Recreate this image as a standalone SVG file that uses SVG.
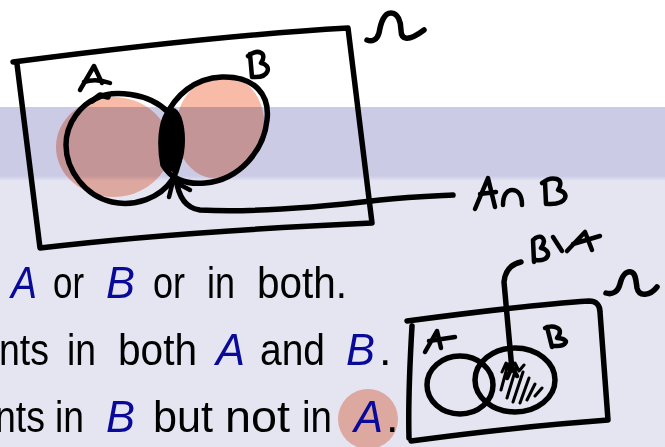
<svg xmlns="http://www.w3.org/2000/svg" width="665" height="447" viewBox="0 0 665 447">
<defs>
<linearGradient id="shade" x1="0" y1="0" x2="0" y2="1">
<stop offset="0" stop-color="#cbcbe6"/>
<stop offset="1" stop-color="#e5e5f2"/>
</linearGradient>
<style>
.ink{fill:none;stroke:#000;stroke-width:5.5;stroke-linecap:round;stroke-linejoin:round}
.thin{stroke-width:4.5}
.hatch{stroke-width:3}
.pink{fill:#f7bba8;mix-blend-mode:multiply}
.txt{font-family:"Liberation Sans",Arial,sans-serif;font-size:45px;fill:#000}
.m{font-style:italic;fill:#0a0a99}
</style>
</defs>
<g id="background">
<rect x="0" y="0" width="665" height="447" fill="#e5e5f2"/>
<rect x="0" y="0" width="665" height="107" fill="#ffffff"/>
<rect x="0" y="107" width="665" height="69" fill="#cbcbe6"/>
<rect x="0" y="176" width="665" height="5" fill="url(#shade)"/>
</g>
<g id="highlight-A">
<circle class="pink" cx="368" cy="419" r="30"/>
</g>
<g id="text">
<text class="txt m" x="11" y="298" textLength="26" lengthAdjust="spacingAndGlyphs">A</text>
<text class="txt" x="53" y="298" textLength="31" lengthAdjust="spacingAndGlyphs">or</text>
<text class="txt m" x="106" y="298" textLength="29" lengthAdjust="spacingAndGlyphs">B</text>
<text class="txt" x="153" y="298" textLength="32" lengthAdjust="spacingAndGlyphs">or</text>
<text class="txt" x="207" y="298" textLength="28" lengthAdjust="spacingAndGlyphs">in</text>
<text class="txt" x="257" y="298" textLength="90" lengthAdjust="spacingAndGlyphs">both.</text>
<text class="txt" x="-1" y="365" textLength="50" lengthAdjust="spacingAndGlyphs">nts</text>
<text class="txt" x="67" y="365" textLength="29" lengthAdjust="spacingAndGlyphs">in</text>
<text class="txt" x="118" y="365" textLength="79" lengthAdjust="spacingAndGlyphs">both</text>
<text class="txt m" x="216" y="365" textLength="29" lengthAdjust="spacingAndGlyphs">A</text>
<text class="txt" x="260" y="365" textLength="65" lengthAdjust="spacingAndGlyphs">and</text>
<text class="txt m" x="346" y="365" textLength="29" lengthAdjust="spacingAndGlyphs">B</text>
<text class="txt" x="379" y="365">.</text>
<text class="txt" x="-5" y="432" textLength="50" lengthAdjust="spacingAndGlyphs">nts</text>
<text class="txt" x="55" y="432" textLength="29" lengthAdjust="spacingAndGlyphs">in</text>
<text class="txt m" x="106" y="432" textLength="29" lengthAdjust="spacingAndGlyphs">B</text>
<text class="txt" x="153" y="432" textLength="60" lengthAdjust="spacingAndGlyphs">but</text>
<text class="txt" x="225" y="432" textLength="65" lengthAdjust="spacingAndGlyphs">not</text>
<text class="txt" x="302" y="432" textLength="30" lengthAdjust="spacingAndGlyphs">in</text>
<text class="txt m" x="354" y="432" textLength="29" lengthAdjust="spacingAndGlyphs">A</text>
<text class="txt" x="386" y="432">.</text>
</g>
<g id="venn-big-fill">
<ellipse class="pink" cx="113" cy="147" rx="57" ry="50"/>
<ellipse class="pink" cx="220" cy="127" rx="44" ry="52" transform="rotate(10 220 127)"/>
</g>
<g id="omega-box-big">
<path class="ink" d="M13,62 C120,48 240,34 348,28 L372,223 C260,228 140,236 40,248 L17,64"/>
<path class="ink" d="M367,40 C372,42 377,40 379,33 C381,22 384,13 391,13 C398,13 401,22 401,30 C401,40 408,42 424,30"/>
</g>
<g id="set-A-big">
<path class="ink" d="M97,98 C112,90 148,92 168,112 C182,128 184,160 172,180 C160,198 135,207 112,202 C85,196 66,170 66,145 C66,122 82,104 97,98 Z"/>
<path class="ink" d="M92,101 L100,95 L108,97"/>
<path class="ink thin" d="M80,90 L94,66 L102,83 M84,82 Q96,78 110,83"/>
</g>
<g id="set-B-big">
<path class="ink" d="M165,118 C175,95 195,78 222,77 C255,76 270,95 267,120 C264,150 240,180 205,183 C185,185 170,178 163,165 C160,150 160,130 165,118 Z"/>
<path class="ink thin" d="M250,54 L252,77 M248,56 C258,48 268,53 261,63 C272,65 270,78 253,77"/>
</g>
<g id="intersection-big">
<ellipse cx="173" cy="140" rx="12" ry="32" fill="#000"/>
</g>
<g id="label-AnB">
<path class="ink thin" d="M475,209 L488,178 L495,207 M480,194 L496,192"/>
<path class="ink thin" d="M503,205 C503,195 507,190 512,190 C518,190 522,195 522,205"/>
<path class="ink thin" d="M545,181 L546,204 M542,183 C552,175 566,178 558,190 C570,192 568,205 548,204"/>
</g>
<g id="omega-box-small">
<path class="ink" d="M407,321 C460,314 530,305 589,301 C597,301 600,306 600,312 L608,420 C540,425 470,433 411,441 M412,326 C410,360 408,400 409,438"/>
<path class="ink" d="M606,293 C612,295 618,292 620,284 C622,276 626,271 631,272 C636,273 636,282 637,288 C639,297 650,296 657,287"/>
</g>
<g id="set-A-small">
<ellipse class="ink" cx="460" cy="385" rx="33" ry="29"/>
<path class="ink thin" d="M425,352 L437,331 L441,348 M429,341 L455,337"/>
</g>
<g id="set-B-small">
<ellipse class="ink" cx="515" cy="380" rx="40" ry="32"/>
<path class="ink thin" d="M547,327 L552,347 M545,328 C552,325 566,327 557,338 C572,339 566,347 554,346"/>
<path class="ink hatch" d="M501,390 L508,364 M507,398 L516,368 M513,402 L523,372 M520,403 L529,378 M527,400 L535,384 M535,396 L542,388 M502,372 L506,363 L510,371 L515,363 L519,371 L524,365"/>
</g>
<g id="label-BminusA">
<path class="ink thin" d="M534,262 L533,240 C540,233 548,238 541,248 C552,250 550,262 536,260"/>
<path class="ink thin" d="M553,237 L562,251"/>
<path class="ink thin" d="M567,251 L585,232 L592,250 M573,244 L600,236"/>
</g>
<g id="connectors">
<path class="ink" d="M176,178 C178,195 184,208 200,210 C250,213 320,207 380,200 C410,197 435,196 453,195"/>
<path class="ink thin" d="M169,197 L173,181 L190,190"/>
<path class="ink" d="M521,262 C512,264 505,270 504,282 L512,370"/>
<path class="ink thin" d="M507,378 L512,367 L517,376"/>
</g>
</svg>
